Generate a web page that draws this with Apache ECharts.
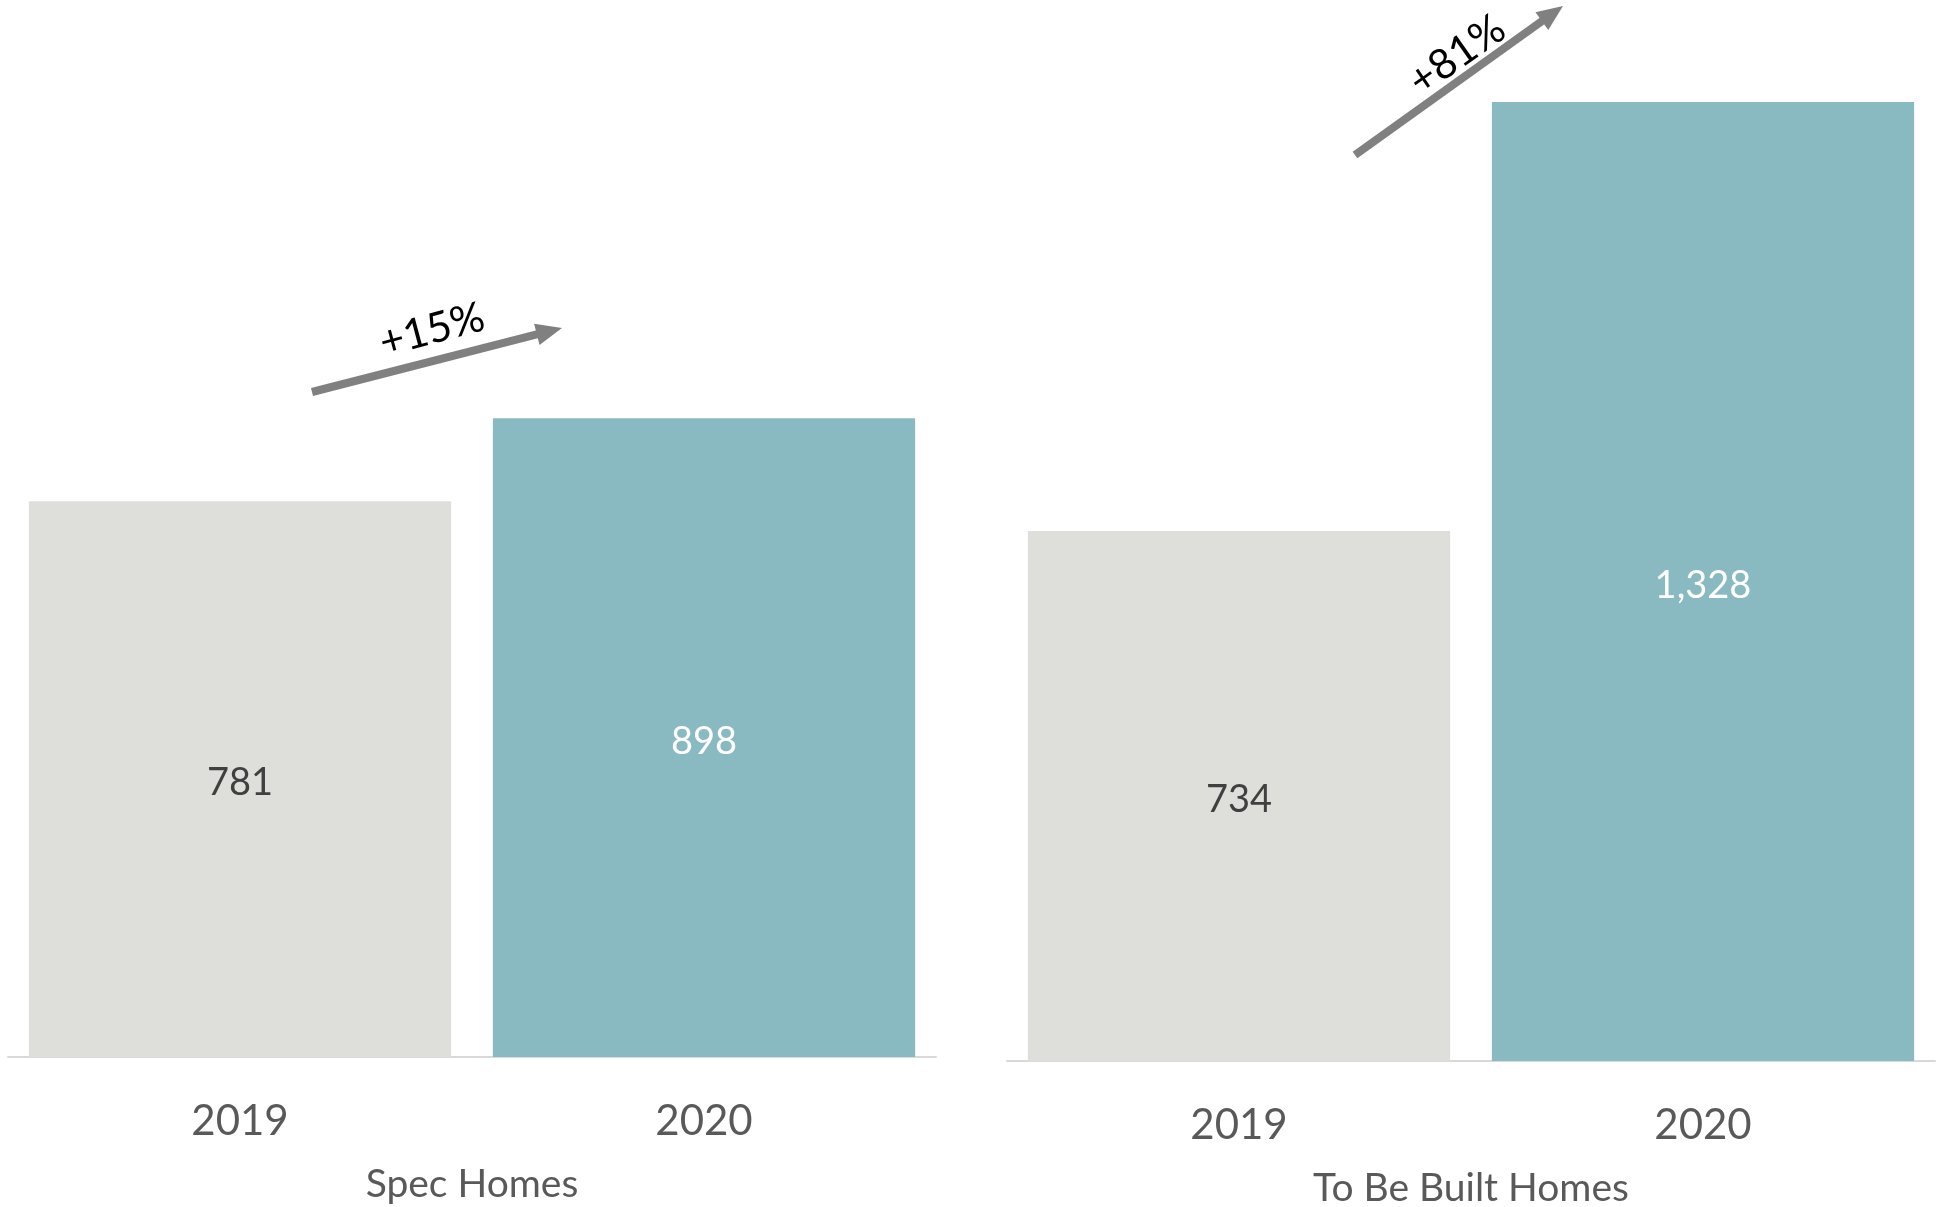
<!DOCTYPE html>
<html>
<head>
<meta charset="utf-8">
<title>Spec vs To Be Built Homes</title>
<script src="https://cdn.jsdelivr.net/npm/echarts@6/dist/echarts.min.js"></script>
<style>
  html, body { margin: 0; padding: 0; background: #ffffff; }
  #chart { width: 1944px; height: 1207px; }
</style>
</head>
<body>
<div id="chart"></div>
<script>
// Data
const years = ['2019', '2020'];
const panelNames = ['Spec Homes', 'To Be Built Homes'];
const specHomes = [781, 898];
const toBeBuiltHomes = [734, 1328];
const changeLabels = ['+15%', '+81%'];

const FONT = 'Lato, "Open Sans", sans-serif';
const GREY = '#DEDEDA';
const TEAL = '#8ABAC1';

function barData(values) {
  return values.map((v, i) => ({
    value: v,
    itemStyle: { color: i === 0 ? GREY : TEAL },
    label: { color: i === 0 ? '#404040' : '#ffffff' }
  }));
}

function xAxisFor(gridIndex, name) {
  return {
    type: 'category',
    gridIndex: gridIndex,
    data: years,
    axisLine: { show: true, lineStyle: { color: '#D9D9D9', width: 2 } },
    axisTick: { show: false },
    axisLabel: {
      color: '#595959', fontFamily: FONT, fontSize: 42,
      lineHeight: 46, margin: 41
    },
    name: name,
    nameLocation: 'middle',
    nameGap: 106,
    nameTextStyle: {
      color: '#595959', fontFamily: FONT, fontSize: 39, lineHeight: 42
    }
  };
}

function yAxisFor(gridIndex) {
  return {
    type: 'value', gridIndex: gridIndex, min: 0, max: 1400,
    show: false, splitLine: { show: false }
  };
}

// Trend arrow: straight shaft with a triangular head, plus a tilted label
function trendArrow(x0, y0, x1, y1, text, tx, ty, angleDeg) {
  const dx = x1 - x0, dy = y1 - y0;
  const len = Math.sqrt(dx * dx + dy * dy);
  const ux = dx / len, uy = dy / len;
  const nx = -uy, ny = ux;
  const headLen = 26, headHalf = 11;
  const bx = x1 - ux * headLen, by = y1 - uy * headLen;
  return [
    {
      type: 'line',
      shape: { x1: x0, y1: y0, x2: bx + ux * 2, y2: by + uy * 2 },
      style: { stroke: '#808080', lineWidth: 8 }
    },
    {
      type: 'polygon',
      shape: { points: [[x1, y1], [bx + nx * headHalf, by + ny * headHalf], [bx - nx * headHalf, by - ny * headHalf]] },
      style: { fill: '#808080' }
    },
    {
      type: 'text',
      x: tx, y: ty,
      rotation: angleDeg * Math.PI / 180,
      style: {
        text: text, fill: '#000000', font: '42px ' + FONT,
        align: 'center', verticalAlign: 'middle'
      }
    }
  ];
}

const valueLabel = {
  show: true, position: 'inside', offset: [0, 4],
  fontFamily: FONT, fontSize: 38,
  formatter: p => p.value.toLocaleString('en-US')
};

const chart = echarts.init(document.getElementById('chart'));
chart.setOption({
  backgroundColor: '#ffffff',
  animation: false,
  grid: [
    { left: 8, width: 928, top: 61, height: 996, outerBoundsMode: 'none', containLabel: false },
    { left: 1007, width: 928, top: 50, height: 1011, outerBoundsMode: 'none', containLabel: false }
  ],
  xAxis: [xAxisFor(0, panelNames[0]), xAxisFor(1, panelNames[1])],
  yAxis: [yAxisFor(0), yAxisFor(1)],
  series: [
    {
      type: 'bar', xAxisIndex: 0, yAxisIndex: 0,
      barCategoryGap: '9%',
      data: barData(specHomes),
      label: valueLabel
    },
    {
      type: 'bar', xAxisIndex: 1, yAxisIndex: 1,
      barCategoryGap: '9%',
      data: barData(toBeBuiltHomes),
      label: valueLabel
    }
  ],
  graphic: [
    ...trendArrow(312, 392, 562, 328, changeLabels[0], 432, 330, 15),
    ...trendArrow(1355, 155, 1563, 6, changeLabels[1], 1457, 55, 35)
  ]
});
</script>
</body>
</html>
